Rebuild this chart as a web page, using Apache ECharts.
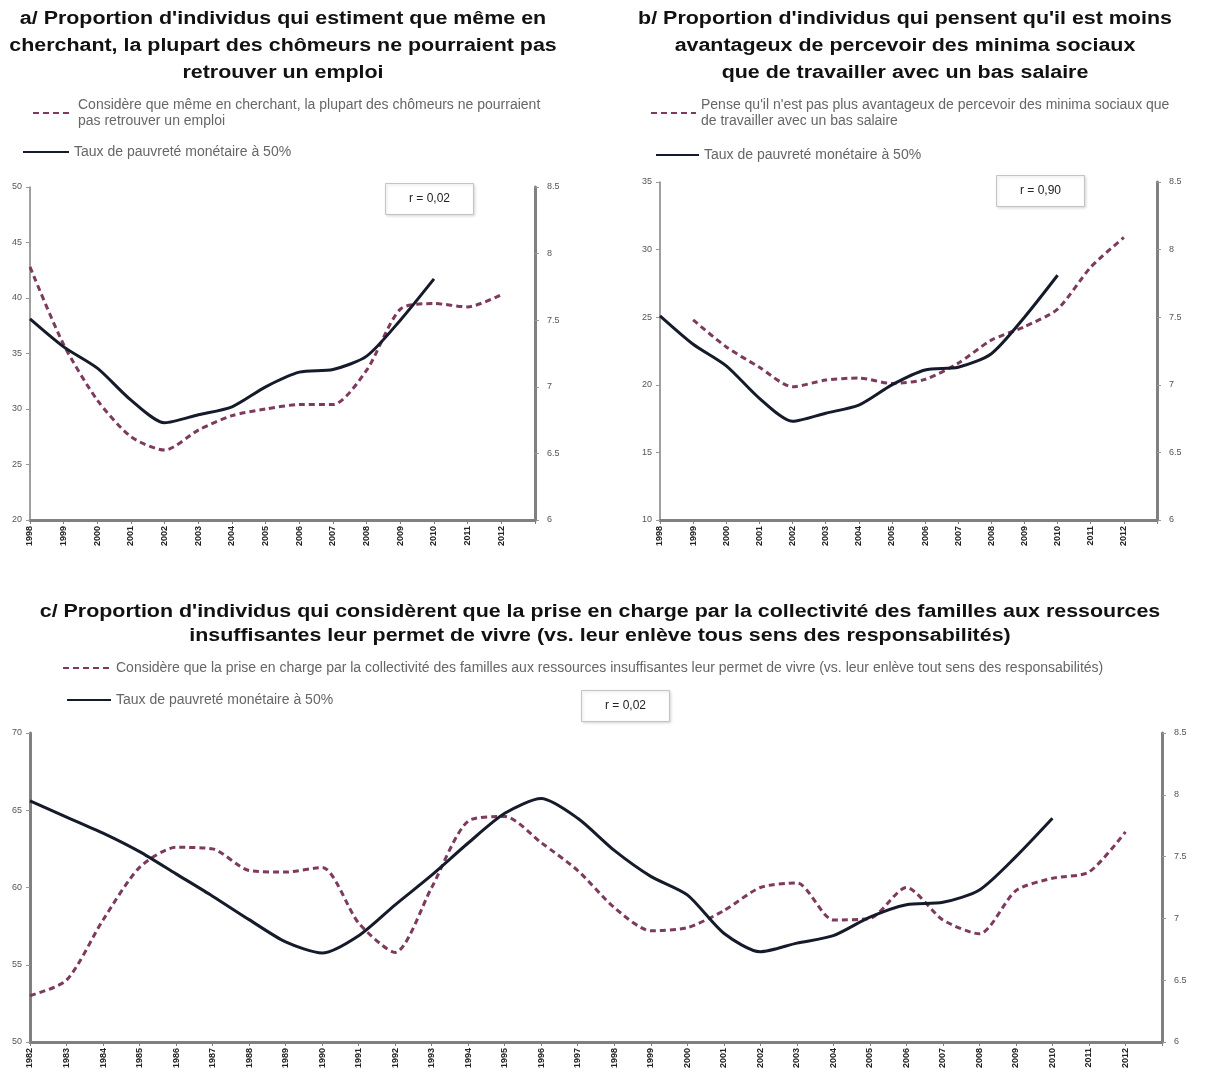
<!DOCTYPE html>
<html>
<head>
<meta charset="utf-8">
<script src="https://cdn.jsdelivr.net/npm/echarts@6/dist/echarts.min.js"></script>
<style>
html,body{margin:0;padding:0;background:#fff;}
#chart{width:1210px;height:1086px;}
</style>
</head>
<body>
<div id="chart"></div>
<script>
// ---------- DATA ----------
const years98 = ['1998','1999','2000','2001','2002','2003','2004','2005','2006','2007','2008','2009','2010','2011','2012'];
const years82 = ['1982','1983','1984','1985','1986','1987','1988','1989','1990','1991','1992','1993','1994','1995','1996','1997',
                 '1998','1999','2000','2001','2002','2003','2004','2005','2006','2007','2008','2009','2010','2011','2012'];

const povertyName = 'Taux de pauvreté monétaire à 50%';
const nameA = 'Considère que même en cherchant, la plupart des chômeurs ne pourraient pas retrouver un emploi';
const nameB = "Pense qu'il n'est pas plus avantageux de percevoir des minima sociaux que de travailler avec un bas salaire";
const nameC = 'Considère que la prise en charge par la collectivité des familles aux ressources insuffisantes leur permet de vivre (vs. leur enlève tout sens des responsabilités)';

// a/ chômeurs ne pourraient pas retrouver un emploi (%), 1998-2012
const valuesA = [42.8, 35.8, 30.8, 27.5, 26.3, 28.1, 29.4, 30.0, 30.4, 30.4, 33.5, 39.0, 39.5, 39.2, 40.3];
// b/ moins avantageux de percevoir des minima sociaux (%), 1998-2012
const valuesB = [null, 24.8, 22.8, 21.3, 19.85, 20.35, 20.5, 20.1, 20.4, 21.6, 23.3, 24.3, 25.6, 28.7, 30.9];
// taux de pauvreté monétaire à 50% (%), 1998-2010
const poverty98 = [7.51, 7.30, 7.14, 6.90, 6.73, 6.79, 6.85, 7.00, 7.11, 7.13, 7.23, 7.50, 7.81];
// c/ prise en charge par la collectivité (%), 1982-2012
const valuesC = [53.0, 54.0, 57.9, 61.3, 62.6, 62.5, 61.1, 61.0, 61.3, 57.7, 55.8, 60.0, 64.3, 64.6, 62.9, 61.1,
                 58.7, 57.2, 57.4, 58.5, 60.0, 60.3, 57.9, 58.0, 60.0, 57.9, 57.0, 59.8, 60.6, 61.0, 63.6];
// taux de pauvreté monétaire à 50% (%), 1982-2010
const poverty82 = [7.95, 7.82, 7.69, 7.54, 7.36, 7.18, 6.99, 6.81, 6.72, 6.86, 7.11, 7.35, 7.61, 7.85, 7.97, 7.81,
                   7.55, 7.34, 7.19, 6.88, 6.73, 6.80, 6.86, 7.01, 7.11, 7.13, 7.23, 7.50, 7.81];

const titleA = "a/ Proportion d'individus qui estiment que même en\ncherchant, la plupart des chômeurs ne pourraient pas\nretrouver un emploi";
const titleB = "b/ Proportion d'individus qui pensent qu'il est moins\navantageux de percevoir des minima sociaux\nque de travailler avec un bas salaire";
const titleC = "c/ Proportion d'individus qui considèrent que la prise en charge par la collectivité des familles aux ressources\ninsuffisantes leur permet de vivre (vs. leur enlève tous sens des responsabilités)";
const corrA = 'r = 0,02', corrB = 'r = 0,90', corrC = 'r = 0,02';

const legendWrap = {};
legendWrap[nameA] = 'Considère que même en cherchant, la plupart des chômeurs ne pourraient\npas retrouver un emploi';
legendWrap[nameB] = "Pense qu'il n'est pas plus avantageux de percevoir des minima sociaux que\nde travailler avec un bas salaire";

// ---------- STYLE ----------
const FONT = '"Liberation Sans", Arial, sans-serif';
const dashColor = '#7d3a5c';
const solidColor = '#151b2b';
const axisGray = '#808080';

function xAxis(grid, data, max) {
  return {
    type: 'category', gridIndex: grid, data: data, boundaryGap: false, max: max,
    axisLine: {lineStyle: {color: axisGray, width: 3}},
    axisTick: {show: true, length: 4, lineStyle: {color: axisGray}},
    axisLabel: {rotate: 90, interval: 0, fontSize: 9, fontWeight: 'bold', color: '#222', margin: 6, fontFamily: FONT},
    splitLine: {show: false}
  };
}
function yLeft(grid, min, max, interval, w) {
  return {
    type: 'value', gridIndex: grid, position: 'left', min: min, max: max, interval: interval,
    axisLine: {show: true, lineStyle: {color: axisGray, width: w}},
    axisTick: {show: true, length: 4, lineStyle: {color: '#999'}},
    axisLabel: {fontSize: 9, color: '#555', margin: 8, fontFamily: FONT},
    splitLine: {show: false}
  };
}
function yRight(grid) {
  return {
    type: 'value', gridIndex: grid, position: 'right', min: 6, max: 8.5, interval: 0.5,
    axisLine: {show: true, lineStyle: {color: axisGray, width: 3}},
    axisTick: {show: true, length: 4, lineStyle: {color: '#999'}},
    axisLabel: {fontSize: 9, color: '#555', margin: 12, fontFamily: FONT},
    splitLine: {show: false}
  };
}
function dashed(name, xi, yi, data) {
  return {name: name, type: 'line', xAxisIndex: xi, yAxisIndex: yi, data: data, symbol: 'none', smooth: 0.25,
          lineStyle: {color: dashColor, width: 3, type: [6, 4]}, itemStyle: {color: dashColor}, z: 3};
}
function solid(xi, yi, data) {
  return {name: povertyName, type: 'line', xAxisIndex: xi, yAxisIndex: yi, data: data, symbol: 'none', smooth: 0.25,
          lineStyle: {color: solidColor, width: 3}, itemStyle: {color: solidColor}, z: 4};
}
function legend(name, left, top, w) {
  return {data: [name], left: left, top: top, orient: 'vertical', itemWidth: w, itemHeight: 10, selectedMode: false,
          itemStyle: {opacity: 0, borderWidth: 0},
          textStyle: {fontSize: 14, color: '#666', lineHeight: 16, fontFamily: FONT},
          formatter: function (n) { return legendWrap[n] || n; }};
}
function corr(text, left, top) {
  return {text: text, left: left, top: top, padding: [10, 24], borderColor: '#c4c4c4', borderWidth: 1,
          backgroundColor: '#fff', shadowBlur: 3, shadowColor: 'rgba(0,0,0,0.15)', shadowOffsetX: 1, shadowOffsetY: 1,
          textStyle: {fontSize: 12, fontWeight: 'normal', color: '#222', fontFamily: FONT}};
}
function titleText(text, x, y, lh) {
  return {type: 'text', x: x, y: y, scaleX: 1.19, style: {text: text, textAlign: 'center', textVerticalAlign: 'top',
          fontSize: 18, fontWeight: 'bold', fontFamily: FONT, fill: '#111', lineHeight: lh}};
}

const chart = echarts.init(document.getElementById('chart'), null, {renderer: 'canvas'});
chart.setOption({
  backgroundColor: '#fff',
  animation: false,
  title: [corr(corrA, 385, 183), corr(corrB, 996, 175), corr(corrC, 581, 690)],
  legend: [
    legend(nameA, 27, 92, 40), legend(povertyName, 17, 139, 46),
    legend(nameB, 645, 92, 45), legend(povertyName, 650, 142, 43),
    legend(nameC, 57, 655, 48), legend(povertyName, 61, 687, 44)
  ],
  graphic: [titleText(titleA, 283, 6, 27), titleText(titleB, 905, 6, 27), titleText(titleC, 600, 600, 24)],
  grid: [
    {left: 30, top: 187, width: 505, height: 333},
    {left: 660, top: 182, width: 497, height: 338},
    {left: 30, top: 733, width: 1132, height: 309}
  ],
  xAxis: [xAxis(0, years98, 14.55), xAxis(1, years98, 14.53), xAxis(2, years82, 30.5)],
  yAxis: [
    yLeft(0, 20, 50, 5, 1.5), yRight(0),
    yLeft(1, 10, 35, 5, 1.5), yRight(1),
    yLeft(2, 50, 70, 5, 3), yRight(2)
  ],
  series: [
    dashed(nameA, 0, 0, valuesA), solid(0, 1, poverty98),
    dashed(nameB, 1, 2, valuesB), solid(1, 3, poverty98),
    dashed(nameC, 2, 4, valuesC), solid(2, 5, poverty82)
  ]
});
</script>
</body>
</html>
